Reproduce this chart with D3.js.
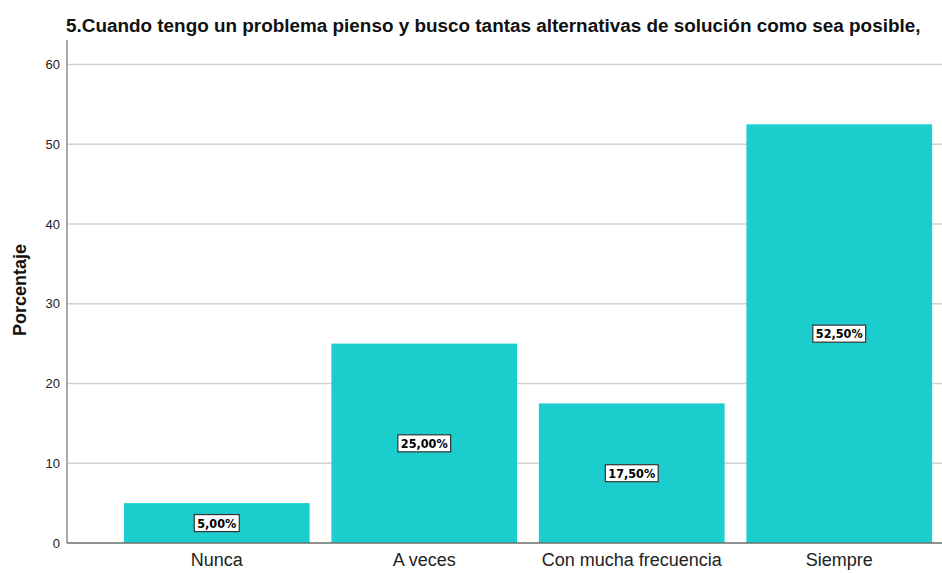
<!DOCTYPE html>
<html>
<head>
<meta charset="utf-8">
<script src="https://cdn.jsdelivr.net/npm/d3@7"></script>
<style>
  body { margin: 0; background: #fff; }
  svg { display: block; }
  .grid line { stroke: #d2d2d2; stroke-width: 1.5; }
  .yaxis text { font-family: "Liberation Sans", Arial, sans-serif; font-size: 13px; fill: #222; }
  .xaxis text { font-family: "Liberation Sans", Arial, sans-serif; font-size: 18px; fill: #222; }
  .label text { font-family: "DejaVu Sans Condensed", "Liberation Sans Narrow", sans-serif; font-stretch: condensed; font-weight: bold; font-size: 12.5px; fill: #000; }
</style>
</head>
<body>
<script>
// chart data
var categories = ["Nunca", "A veces", "Con mucha frecuencia", "Siempre"];
var percents = [5.00, 25.00, 17.50, 52.50];
var yTicks = [0, 10, 20, 30, 40, 50, 60];
var title = "5.Cuando tengo un problema pienso y busco tantas alternativas de solución como sea posible,";
var yLabel = "Porcentaje";

var width = 942, height = 573;
var axisX = 67, plotTop = 40, plotBottom = 543;

var svg = d3.select("body").append("svg")
    .attr("width", width)
    .attr("height", height);

var x = d3.scaleBand()
    .domain(categories)
    .range([113, 943])
    .paddingInner(0.105)
    .paddingOuter(0.0525);

var y = d3.scaleLinear()
    .domain([0, 60])
    .range([plotBottom, 64.5]);

// gridlines
svg.append("g")
    .attr("class", "grid")
    .selectAll("line").data(yTicks.filter(function(d) { return d > 0; }))
    .enter().append("line")
      .attr("x1", axisX)
      .attr("x2", width)
      .attr("y1", function(d) { return y(d); })
      .attr("y2", function(d) { return y(d); });

// bars
svg.append("g").selectAll("rect").data(percents)
  .enter().append("rect")
    .attr("x", function(d, i) { return x(categories[i]); })
    .attr("y", function(d) { return y(d); })
    .attr("width", x.bandwidth())
    .attr("height", function(d) { return y(0) - y(d); })
    .attr("fill", "#1ccdcd");

// y axis
var yAxis = svg.append("g")
    .attr("class", "yaxis")
    .attr("transform", "translate(" + axisX + ",0)")
    .call(d3.axisLeft(y).tickValues(yTicks).tickSize(0).tickPadding(7));
yAxis.select(".domain").remove();
svg.append("line")
    .attr("x1", axisX).attr("x2", axisX)
    .attr("y1", plotTop).attr("y2", plotBottom)
    .attr("stroke", "#8c8c8c").attr("stroke-width", 1.5);

// x axis
var xAxis = svg.append("g")
    .attr("class", "xaxis")
    .attr("transform", "translate(0," + plotBottom + ")")
    .call(d3.axisBottom(x).tickSize(0).tickPadding(10));
xAxis.select(".domain").remove();
svg.append("line")
    .attr("x1", axisX).attr("x2", width)
    .attr("y1", plotBottom).attr("y2", plotBottom)
    .attr("stroke", "#6e6e6e").attr("stroke-width", 1.5);

// value labels in boxes
var labels = svg.append("g").attr("class", "label")
  .selectAll("g").data(percents)
  .enter().append("g")
    .attr("transform", function(d, i) {
      return "translate(" + (x(categories[i]) + x.bandwidth() / 2) + "," + y(d / 2) + ")";
    });
labels.append("text")
    .attr("text-anchor", "middle")
    .attr("dy", "0.36em")
    .text(function(d) { return d.toFixed(2).replace(".", ",") + "%"; });
labels.each(function() {
  var g = d3.select(this);
  var bb = g.select("text").node().getBBox();
  g.insert("rect", "text")
    .attr("x", bb.x - 3)
    .attr("y", -8.5)
    .attr("width", bb.width + 6)
    .attr("height", 17)
    .attr("fill", "#fff")
    .attr("stroke", "#333")
    .attr("stroke-width", 1.2);
});

// y label
svg.append("text")
    .attr("transform", "translate(26,290) rotate(-90)")
    .attr("text-anchor", "middle")
    .attr("font-family", "Liberation Sans, Arial, sans-serif")
    .attr("font-weight", "bold")
    .attr("font-size", 18)
    .attr("fill", "#111")
    .text(yLabel);

// title
svg.append("text")
    .attr("x", 66)
    .attr("y", 32)
    .attr("font-family", "Liberation Sans, Arial, sans-serif")
    .attr("font-weight", "bold")
    .attr("font-size", 18.9)
    .attr("fill", "#111")
    .text(title);
</script>
</body>
</html>
